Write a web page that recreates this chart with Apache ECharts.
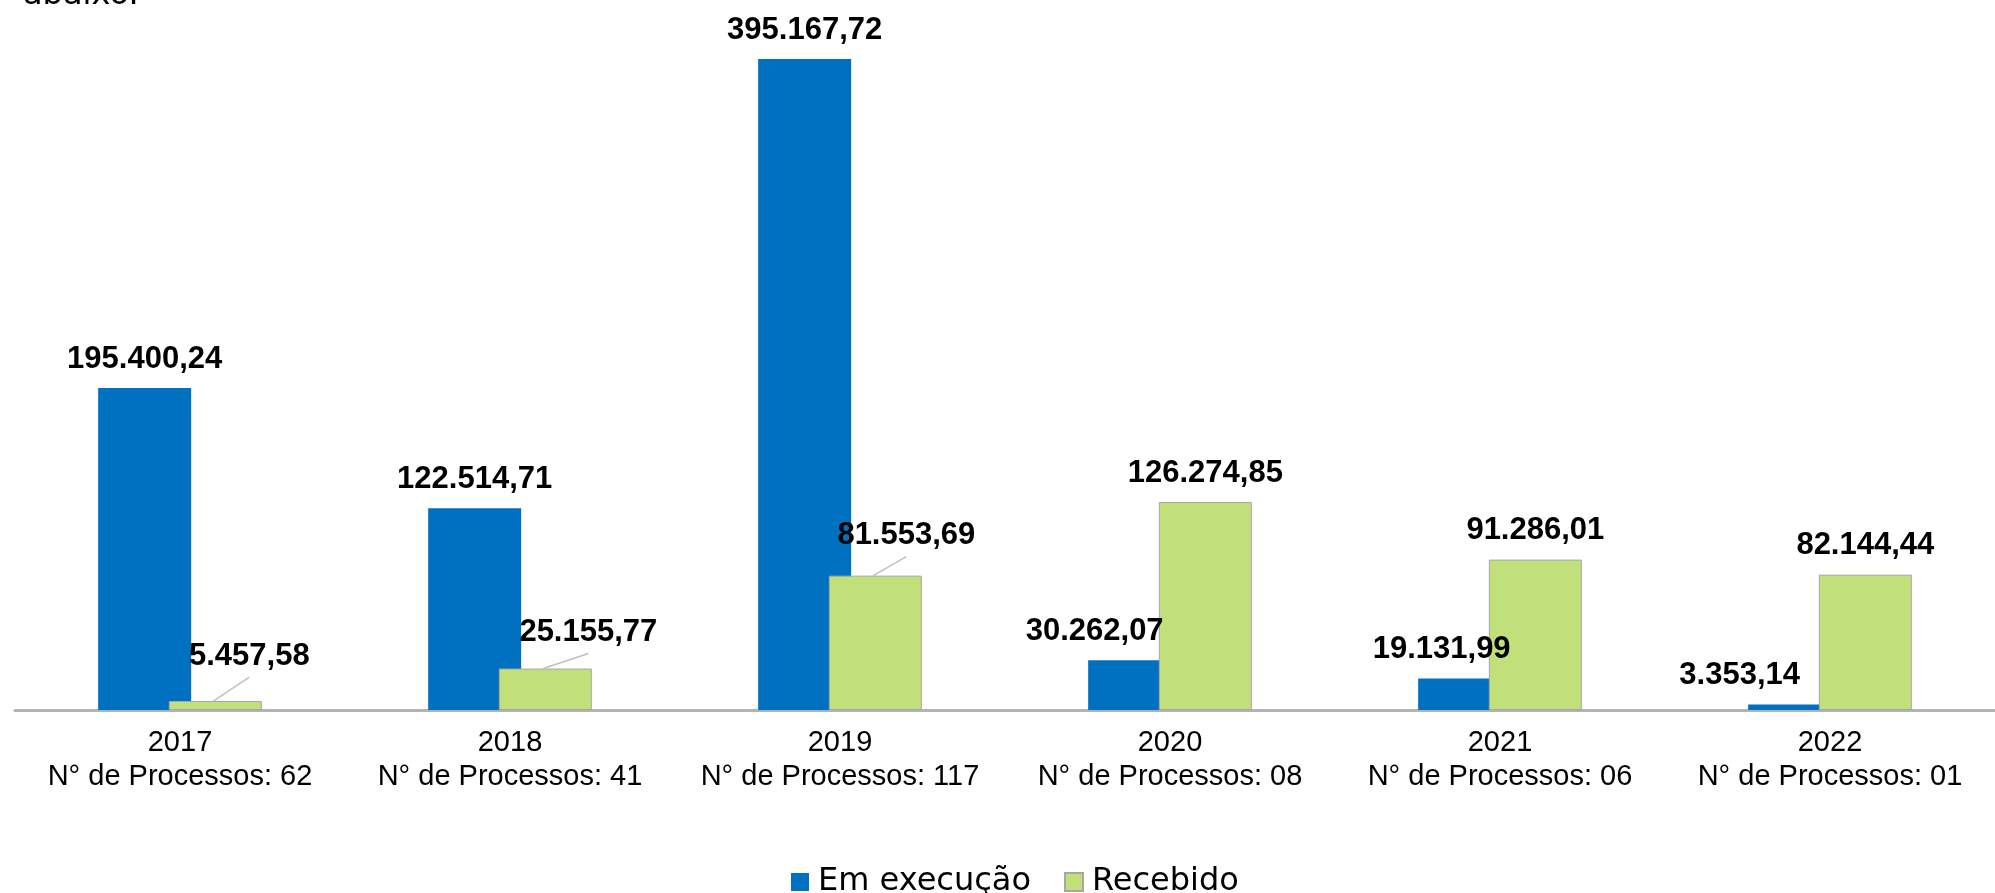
<!DOCTYPE html>
<html>
<head>
<meta charset="utf-8">
<title>Processos</title>
<script src="https://cdn.jsdelivr.net/npm/echarts@6/dist/echarts.min.js"></script>
<style>
  html, body { margin: 0; padding: 0; background: #fff; }
  #chart { width: 1995px; height: 893px; }
</style>
</head>
<body>
<div id="chart"></div>
<script>
// dados do gráfico
const anos = ['2017', '2018', '2019', '2020', '2021', '2022']
const processos = ['62', '41', '117', '08', '06', '01']
const emExecucao = [195400.24, 122514.71, 395167.72, 30262.07, 19131.99, 3353.14]
const recebido = [5457.58, 25155.77, 81553.69, 126274.85, 91286.01, 82144.44]

// deslocamento manual dos rótulos (como no gráfico original)
const offsetAzul = [[0, 0], [0, 0], [0, 0], [-40, 0], [-23, 0], [-55, 0]]
const offsetVerde = [[34, -16], [43, -7], [31, -11], [0, 0], [0, 0], [0, 0]]

const labelDistance = 14

// 195400.24 -> 195.400,24
const formatBR = (v) => {
  let parts = v.toFixed(2).split('.')
  parts[0] = parts[0].replace(/\B(?=(\d{3})+(?!\d))/g, '.')
  return parts[0] + ',' + parts[1]
}

let chartDom = document.getElementById('chart')
let myChart = echarts.init(chartDom)

const labelStyle = {
  show: true,
  position: 'top',
  distance: labelDistance,
  fontFamily: 'Liberation Sans',
  fontWeight: 'bold',
  fontSize: 31,
  lineHeight: 30,
  color: '#000',
  formatter: (p) => formatBR(p.value)
}

const moveLabel = (offsets) => (p) => {
  let o = offsets[p.dataIndex]
  if (!o[0] && !o[1]) return {}
  return { dx: o[0], dy: o[1] }
}

let option = {
  animation: false,
  backgroundColor: '#fff',
  graphic: [
    {
      type: 'text',
      left: 23,
      top: -20,
      style: {
        text: 'abaixo.',
        font: '32px "DejaVu Sans"',
        fill: '#000'
      }
    }
  ],
  legend: {
    left: 786,
    top: 861,
    itemWidth: 18,
    itemHeight: 18,
    itemGap: 33,
    icon: 'rect',
    textStyle: {
      fontFamily: 'DejaVu Sans',
      fontSize: 32,
      color: '#000',
      padding: [0, 0, 0, 4]
    },
    data: ['Em execução', 'Recebido']
  },
  grid: {
    left: 15,
    top: 51,
    width: 1997,
    bottom: 183,
    containLabel: false
  },
  xAxis: {
    type: 'category',
    data: anos,
    axisTick: { show: false },
    axisLine: { lineStyle: { color: '#b3b3b3', width: 3 } },
    axisLabel: {
      interval: 0,
      margin: 16,
      fontFamily: 'Liberation Sans',
      fontSize: 29,
      lineHeight: 34,
      color: '#000',
      formatter: (v, i) => v + '\nN° de Processos: ' + processos[i]
    }
  },
  yAxis: {
    type: 'value',
    min: 0,
    max: 400000,
    show: false,
    splitLine: { show: false }
  },
  series: [
    {
      name: 'Em execução',
      type: 'bar',
      data: emExecucao,
      barWidth: 93,
      barGap: '-24%',
      itemStyle: { color: '#0070C0' },
      label: labelStyle,
      labelLayout: moveLabel(offsetAzul)
    },
    {
      name: 'Recebido',
      type: 'bar',
      data: recebido,
      barWidth: 93,
      itemStyle: { color: '#C2E07A', borderColor: '#a6a6a6', borderWidth: 1 },
      label: labelStyle,
      labelLayout: moveLabel(offsetVerde)
    }
  ]
}

myChart.setOption(option)

// linhas de chamada: do topo da barra verde até logo abaixo do rótulo deslocado
const desenhaLinhas = () => {
  let data = myChart.getModel().getSeriesByIndex(1).getData()
  let linhas = []
  recebido.forEach((v, i) => {
    let o = offsetVerde[i]
    if (!o[0] && !o[1]) return
    let r = data.getItemLayout(i)
    let cx = r.x + r.width / 2
    let topo = Math.min(r.y, r.y + r.height)
    linhas.push({
      type: 'line',
      z: 10,
      silent: true,
      shape: { x1: cx - 2, y1: topo, x2: cx + o[0], y2: topo - labelDistance + 6 + o[1] },
      style: { stroke: '#bfbfbf', lineWidth: 1.5 }
    })
  })
  myChart.setOption({ graphic: option.graphic.concat(linhas) })
}
desenhaLinhas()
</script>
</body>
</html>
